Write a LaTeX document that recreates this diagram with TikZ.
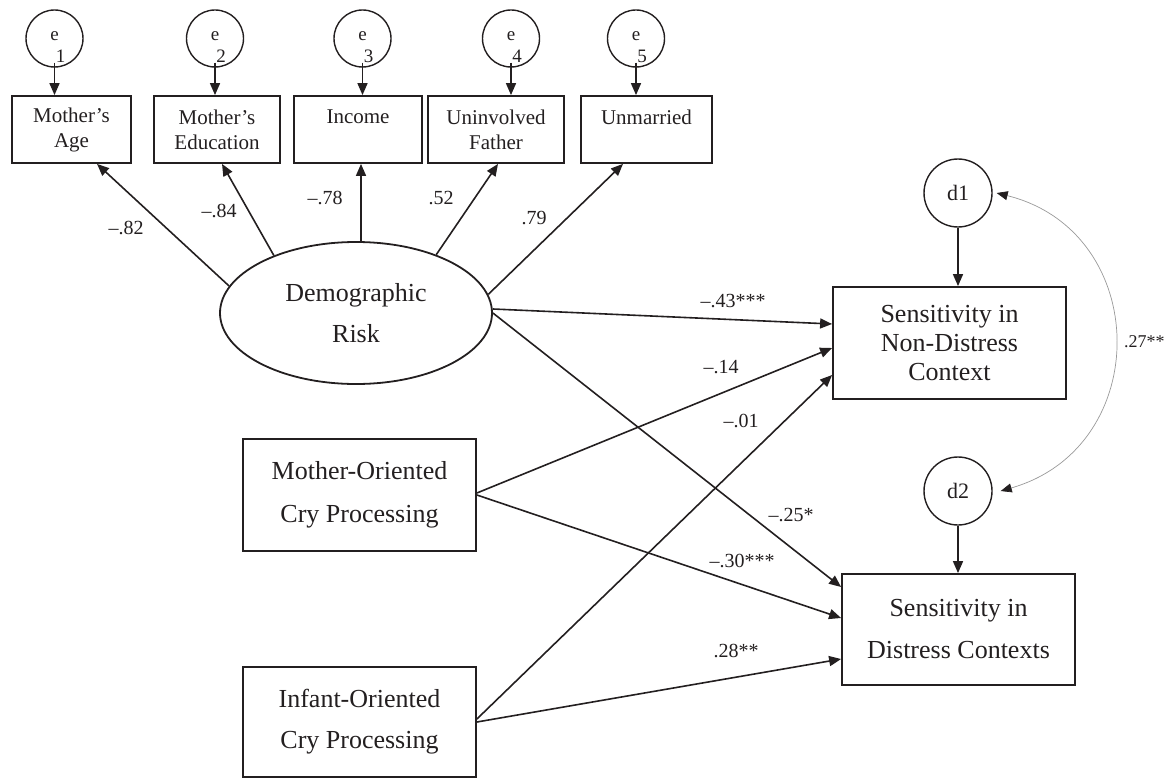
\documentclass[tikz,border=0pt]{standalone}
\usepackage{fontspec}
\setmainfont{Liberation Serif}
\usetikzlibrary{arrows.meta,shapes.geometric}
\definecolor{ink}{HTML}{231F20}
\tikzset{covtip/.tip={Triangle[length=11pt,width=9pt,color=ink]}}
\begin{document}
\begin{tikzpicture}[x=1pt,y=1pt,
  conn/.style={draw=ink,line width=1.6pt,-{Triangle[length=12pt,width=10pt]}},
  obs/.style={draw=ink,line width=1.8pt,rectangle,inner sep=0pt,align=center,text=ink},
  topbox/.style={obs,font=\fontsize{21}{25}\selectfont,minimum height=67pt},
  bigbox/.style={obs,minimum width=233pt,minimum height=112pt},
  errc/.style={circle,draw=ink,line width=1.4pt,inner sep=0pt,minimum size=57pt},
  dres/.style={circle,draw=ink,line width=1.4pt,inner sep=0pt,minimum size=68pt,text=ink,font=\fontsize{22}{24}\selectfont},
  etxt/.style={inner sep=0pt,text=ink,font=\fontsize{19}{21}\selectfont},
  coef/.style={inner sep=0pt,text=ink,font=\fontsize{20}{22}\selectfont}
]
\useasboundingbox (0,0) rectangle (1169,-778);

% error terms
\node[errc] (e1) at (54.5,-38.5) {};
\node[errc] (e2) at (215,-38.5) {};
\node[errc] (e3) at (362.5,-38.5) {};
\node[errc] (e4) at (511,-38.5) {};
\node[errc] (e5) at (636,-38.5) {};
\foreach \n/\d in {e1/1,e2/2,e3/3,e4/4,e5/5}{
  \node[etxt] at ([shift={(0,2)}]\n.center) {e};
  \node[etxt] at ([shift={(6,-18)}]\n.center) {\d};
}

% indicators
\node[topbox,minimum width=119pt] (age) at (71.5,-129.5) {Mother’s\\Age};
\node[topbox,minimum width=126pt] (edu) at (217,-129.5) {Mother’s\\Education};
\node[topbox,minimum width=128pt] (inc) at (358,-129.5) {Income\\\mbox{}};
\node[topbox,minimum width=136pt] (fat) at (496,-129.5) {Uninvolved\\Father};
\node[topbox,minimum width=131pt] (unm) at (646.5,-129.5) {Unmarried\\\mbox{}};

% latent
\node[ellipse,draw=ink,line width=1.8pt,minimum width=272pt,minimum height=142pt,inner sep=0pt,
      align=center,text=ink,font=\fontsize{26}{41}\selectfont] (dem) at (356,-313) {Demographic\\Risk};

% predictors and outcomes
\node[bigbox,font=\fontsize{26}{43}\selectfont] (mo) at (359.5,-495) {Mother-Oriented\\Cry Processing};
\node[bigbox,minimum height=110pt,font=\fontsize{26}{41}\selectfont] (io) at (359.5,-722) {Infant-Oriented\\Cry Processing};
\node[bigbox,font=\fontsize{26}{29}\selectfont] (nd) at (949.5,-343) {Sensitivity in\\Non-Distress\\Context};
\node[bigbox,minimum height=111pt,font=\fontsize{26}{42}\selectfont] (dc) at (958.5,-629.5) {Sensitivity in\\Distress Contexts};

% disturbances
\node[dres] (d1) at (958,-193) {d1};
\node[dres] (d2) at (958,-491) {d2};

% error arrows
\draw[conn] ([yshift=5pt]e1.south) -- (e1.south |- age.north);
\draw[conn] ([yshift=5pt]e2.south) -- (e2.south |- edu.north);
\draw[conn] ([yshift=5pt]e3.south) -- (e3.south |- inc.north);
\draw[conn] ([yshift=5pt]e4.south) -- (e4.south |- fat.north);
\draw[conn] ([yshift=5pt]e5.south) -- (e5.south |- unm.north);

% loadings
\draw[conn] (dem.168) -- ([xshift=25.5pt]age.south);
\draw[conn] (dem.145) -- ([xshift=5pt]edu.south);
\draw[conn] ([xshift=5pt]dem.north) -- ([xshift=5pt]dem.north |- inc.south);
\draw[conn] (dem.36) -- ([xshift=2pt]fat.south);
\draw[conn] (dem.8) -- ([xshift=-23.5pt]unm.south);

% structural paths
\draw[conn] ([yshift=4pt]dem.east) -- ([yshift=19pt]nd.west);
\draw[conn] (dem.east) -- ([yshift=42.5pt]dc.west);
\draw[conn] ([yshift=2pt]mo.east) -- ([yshift=-5pt]nd.west);
\draw[conn] (mo.east) -- ([yshift=11.5pt]dc.west);
\draw[conn] ([yshift=3pt]io.east) -- ([yshift=-32pt]nd.west);
\draw[conn] (io.east) -- ([yshift=-29.5pt]dc.west);
\draw[conn] (d1.south) -- (d1.south |- nd.north);
\draw[conn] (d2.south) -- (d2.south |- dc.north);

% covariance
\draw[draw=black!40,line width=0.7pt,{covtip}-{covtip}] ([xshift=4pt]d1.east) to[out=-14,in=16,looseness=1.37] ([xshift=8pt]d2.east);

% coefficients
\node[coef] at (126,-228) {–.82};
\node[coef] at (219,-211) {–.84};
\node[coef] at (325,-198) {–.78};
\node[coef] at (441,-198) {.52};
\node[coef] at (534,-218) {.79};
\node[coef] at (733,-301) {–.43***};
\node[coef] at (721,-367) {–.14};
\node[coef] at (741,-421) {–.01};
\node[coef] at (791,-515) {–.25*};
\node[coef] at (742,-561) {–.30***};
\node[coef] at (736,-651) {.28**};
\node[coef,anchor=west,font=\fontsize{18}{20}\selectfont] at (1124,-342) {.27**};
\end{tikzpicture}
\end{document}
